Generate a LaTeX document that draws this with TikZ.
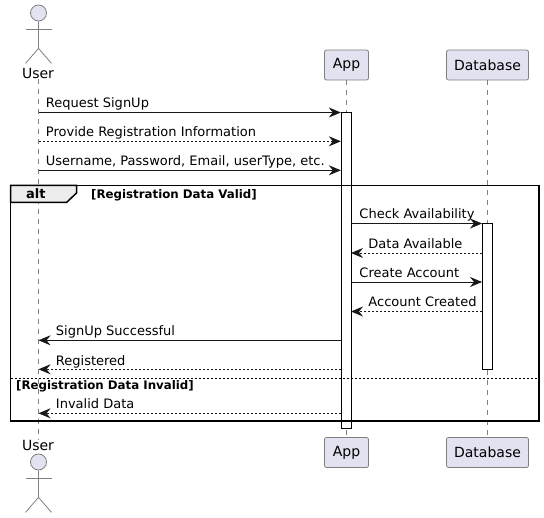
\documentclass[tikz,border=0pt]{standalone}
\usepackage{fontspec}
\setmainfont{DejaVu Sans}
\usepackage{tikz}
\usetikzlibrary{arrows.meta, calc}
\definecolor{partfill}{HTML}{E2E2F0}
\definecolor{partline}{HTML}{808080}
\definecolor{arrowink}{HTML}{181818}
\tikzstyle{participant} = [rectangle, rounded corners=2pt, minimum height=30pt, inner sep=0pt, text centered, text=black, line width=0.8pt, draw=partline, fill=partfill, font=\fontsize{14}{16}\selectfont]
\tikzstyle{actorname} = [inner sep=0pt, fill=white, font=\fontsize{14}{16}\selectfont]
\tikzstyle{lifeline} = [partline, line width=0.8pt, dash pattern=on 5pt off 5pt]
\tikzstyle{actorline} = [partline, line width=0.8pt]
\tikzstyle{head} = [circle, draw=partline, fill=partfill, line width=0.8pt, minimum size=16pt, inner sep=0pt]
\tikzstyle{activation} = [rectangle, draw=black, fill=white, line width=0.9pt, minimum width=10pt, inner sep=0pt]
\tikzstyle{arrow} = [arrowink, line width=0.9pt, -{Stealth[inset=4pt,length=12pt,width=10pt]}]
\tikzstyle{reply} = [arrow, dash pattern=on 2pt off 2pt]
\tikzstyle{msg} = [anchor=base west, inner sep=0pt, text=black, font=\fontsize{13}{15}\selectfont]
\tikzstyle{guard} = [anchor=base west, inner sep=0pt, font=\fontsize{11.8}{13}\selectfont\bfseries]
\begin{document}
\begin{tikzpicture}[x=1pt, y=-1pt]
\useasboundingbox (0,0) rectangle (544,518);
% actors and boxes
\node (userTop) [actorname] at (38,73.5) {User};
\node (userBot) [actorname] at (38,445.5) {User};
\node (appTop) [participant, minimum width=44pt] at (346.5,65) {App};
\node (appBot) [participant, minimum width=44pt] at (346.5,452.5) {App};
\node (dbTop) [participant, minimum width=82pt] at (487.5,65) {Database};
\node (dbBot) [participant, minimum width=82pt] at (487.5,452.5) {Database};

% stick figures
\node (headTop) [head] at (38.5,13) {};
\draw [actorline] (headTop.south) -- ++(0,27) coordinate (hipTop) -- ++(-13,15);
\draw [actorline] (hipTop) -- ++(13,15);
\draw [actorline] ($(headTop.south)+(-13,8)$) -- ++(26,0);
\node (headBot) [head] at (38.5,462) {};
\draw [actorline] (headBot.south) -- ++(0,27) coordinate (hipBot) -- ++(-13,15);
\draw [actorline] (hipBot) -- ++(13,15);
\draw [actorline] ($(headBot.south)+(-13,8)$) -- ++(26,0);

% lifelines
\draw [lifeline] (userTop.south) -- (userBot.north);
\draw [lifeline] (appTop.south) -- (appBot.north);
\draw [lifeline] (dbTop.south) -- (dbBot.north);

% activations
\node (appBar) [activation, minimum height=316pt] at (346.3,270.3) {};
\node (dbBar) [activation, minimum height=146pt] at (487.5,296.3) {};

% alt frame
\draw [black, line width=1.5pt] (10.5,185.5) rectangle (539,421);
\draw [black, line width=1.5pt, fill=black!7] (10.5,185.5) -- (10.5,202.5) -- (66.5,202.5) -- (76.5,193) -- (76.5,185.5) -- cycle;
\node (altLabel) [anchor=base west, inner sep=0pt, font=\fontsize{13}{15}\selectfont\bfseries] at (26,199) {alt};
\node (guardOne) [guard] at (91,198.5) {[Registration Data Valid]};
\draw [black, line width=0.8pt, dash pattern=on 2pt off 2pt] (10.5,378.5) -- (539,378.5);
\node (guardTwo) [guard] at (16,389.5) {[Registration Data Invalid]};

% messages
\coordinate (u1) at (38.5,112.5);
\coordinate (u2) at (38.5,141.3);
\coordinate (u3) at (38.5,170.3);
\coordinate (u4) at (38.5,340.3);
\coordinate (u5) at (38.5,369.3);
\coordinate (u6) at (38.5,413.3);
\draw [arrow] (u1) -- node (m1) [msg, pos=0, xshift=7pt, yshift=5pt] {Request SignUp} (u1 -| appBar.west);
\draw [reply] (u2) -- node (m2) [msg, pos=0, xshift=7pt, yshift=5pt] {Provide Registration Information} (u2 -| appBar.west);
\draw [arrow] (u3) -- node (m3) [msg, pos=0, xshift=7pt, yshift=4.5pt] {Username, Password, Email, userType, etc.} (u3 -| appBar.west);
\coordinate (a4) at (351,223.5);
\coordinate (a5) at (351,253);
\coordinate (a6) at (351,282);
\coordinate (a7) at (351,311.5);
\draw [arrow] (a4) -- node (m4) [msg, pos=0, xshift=8pt, yshift=4.5pt] {Check Availability} (a4 -| dbBar.west);
\draw [reply] (a5 -| dbBar.west) -- node (m5) [msg, pos=1, xshift=17pt, yshift=4.5pt] {Data Available} (a5);
\draw [arrow] (a6) -- node (m6) [msg, pos=0, xshift=8pt, yshift=4.5pt] {Create Account} (a6 -| dbBar.west);
\draw [reply] (a7 -| dbBar.west) -- node (m7) [msg, pos=1, xshift=17pt, yshift=4.5pt] {Account Created} (a7);
\draw [arrow] (u4 -| appBar.west) -- node (m8) [msg, pos=1, xshift=17pt, yshift=4.5pt] {SignUp Successful} (u4);
\draw [reply] (u5 -| appBar.west) -- node (m9) [msg, pos=1, xshift=17pt, yshift=4pt] {Registered} (u5);
\draw [reply] (u6 -| appBar.west) -- node (m10) [msg, pos=1, xshift=17pt, yshift=5pt] {Invalid Data} (u6);
\end{tikzpicture}
\end{document}
